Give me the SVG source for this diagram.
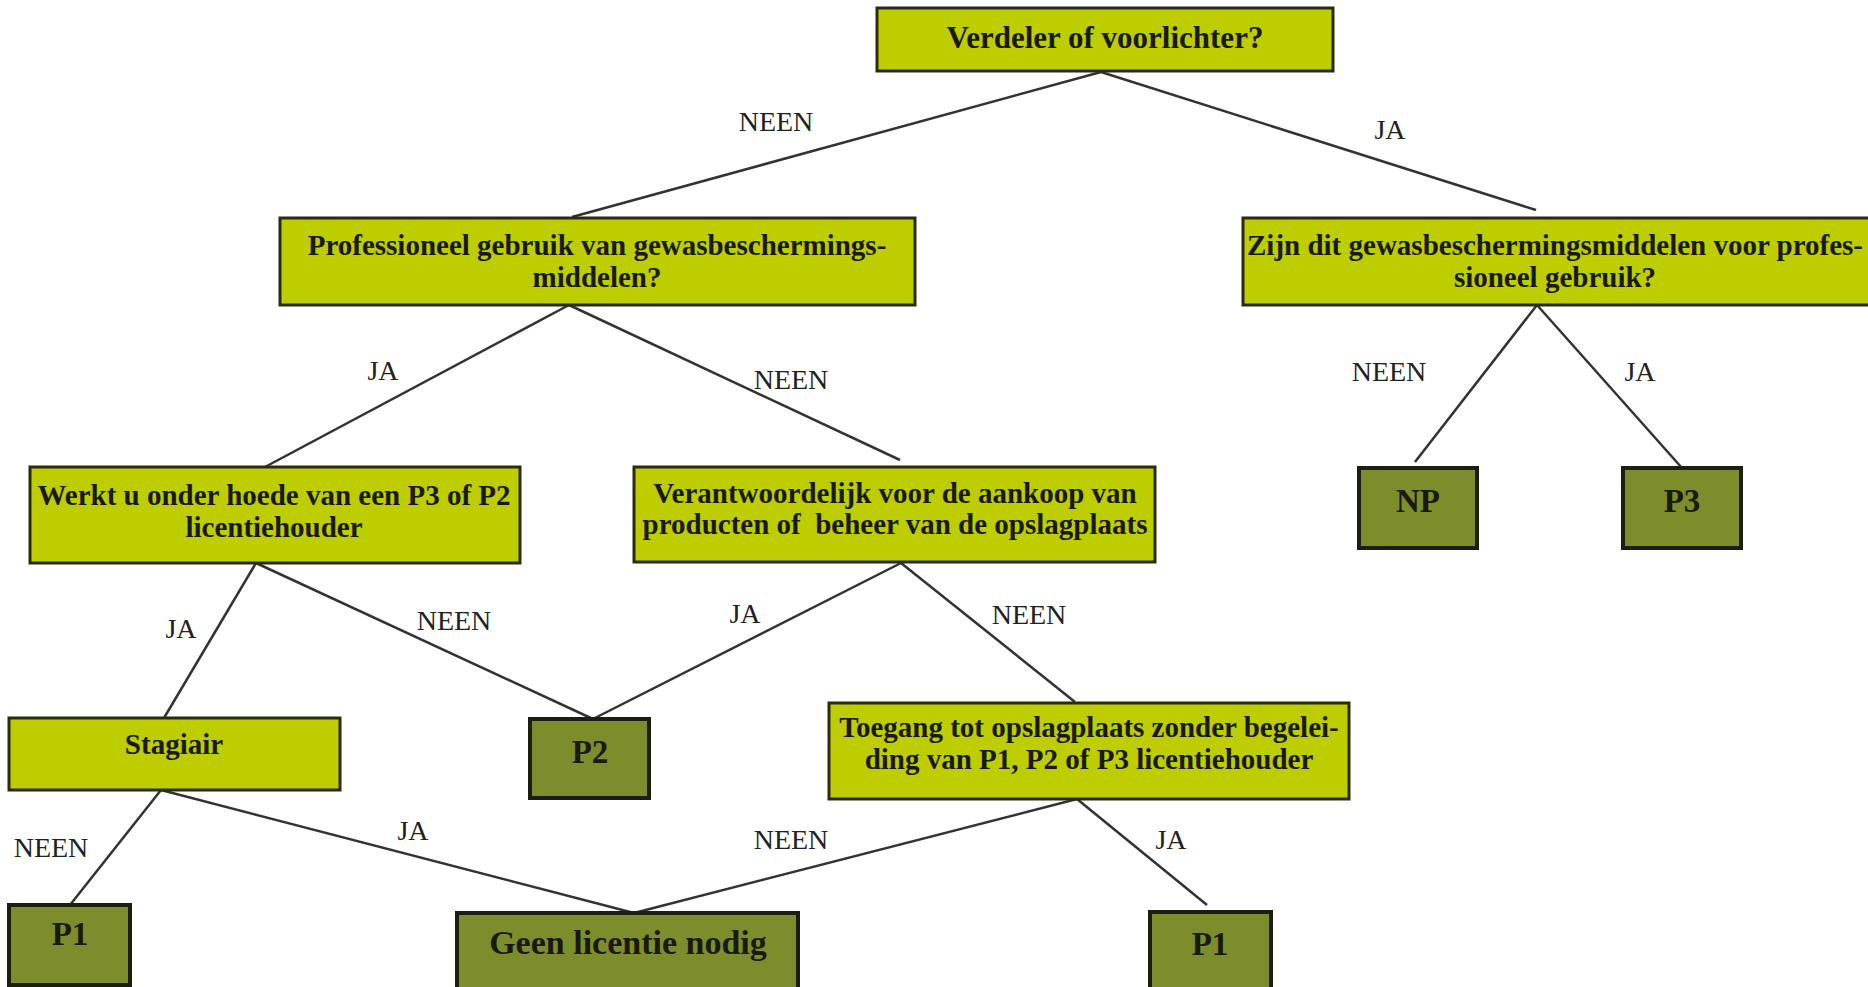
<svg xmlns="http://www.w3.org/2000/svg" width="1868" height="987" viewBox="0 0 1868 987">
<style>
.q{fill:#bdcd00;stroke:#2b2b12;stroke-width:3}
.r{fill:#7d8d2c;stroke:#1e1e0e;stroke-width:4}
.t{font-family:"Liberation Serif","Times New Roman",serif;font-weight:bold;font-size:29px;fill:#1a1a0a;text-anchor:middle}
.tr{font-family:"Liberation Serif","Times New Roman",serif;font-weight:bold;font-size:33px;fill:#1a1a0a;text-anchor:middle}
.l{font-family:"Liberation Serif","Times New Roman",serif;font-size:28px;fill:#222;text-anchor:middle}
.c line{stroke:#333;stroke-width:2.5}
</style>
<rect width="1868" height="987" fill="#ffffff"/>
<g id="connectors" class="c">
<line x1="1101" y1="72" x2="572" y2="217"/>
<line x1="1101" y1="72" x2="1536" y2="210"/>
<line x1="569" y1="305" x2="265" y2="467"/>
<line x1="569" y1="305" x2="900" y2="460"/>
<line x1="1537" y1="305" x2="1415" y2="462"/>
<line x1="1537" y1="305" x2="1682" y2="468"/>
<line x1="256" y1="563" x2="164" y2="718"/>
<line x1="256" y1="563" x2="593" y2="719"/>
<line x1="901" y1="563" x2="593" y2="719"/>
<line x1="901" y1="563" x2="1075" y2="702"/>
<line x1="161" y1="790" x2="70" y2="905"/>
<line x1="161" y1="790" x2="634" y2="913"/>
<line x1="1077" y1="799" x2="634" y2="913"/>
<line x1="1077" y1="799" x2="1207" y2="905"/>
<text class="l" x="776" y="131">NEEN</text>
<text class="l" x="1390" y="139">JA</text>
<text class="l" x="383" y="380">JA</text>
<text class="l" x="791" y="389">NEEN</text>
<text class="l" x="1389" y="381">NEEN</text>
<text class="l" x="1640" y="381">JA</text>
<text class="l" x="181" y="638">JA</text>
<text class="l" x="454" y="630">NEEN</text>
<text class="l" x="745" y="623">JA</text>
<text class="l" x="1029" y="624">NEEN</text>
<text class="l" x="51" y="857">NEEN</text>
<text class="l" x="413" y="840">JA</text>
<text class="l" x="791" y="849">NEEN</text>
<text class="l" x="1171" y="849">JA</text>
</g>
<g id="verdeler"><rect class="q" x="877" y="8" width="456" height="63"/><text class="t" x="1105" y="48" style="font-size:31px">Verdeler of voorlichter?</text></g>
<g id="professioneel"><rect class="q" x="280" y="218" width="635" height="87"/><text class="t" x="597" y="255">Professioneel gebruik van gewasbeschermings-</text><text class="t" x="597" y="287">middelen?</text></g>
<g id="zijn"><rect class="q" x="1243" y="218" width="627" height="87"/><text class="t" x="1555" y="255">Zijn dit gewasbeschermingsmiddelen voor profes-</text><text class="t" x="1555" y="287">sioneel gebruik?</text></g>
<g id="werkt"><rect class="q" x="30" y="467" width="490" height="96"/><text class="t" x="274" y="505">Werkt u onder hoede van een P3 of P2</text><text class="t" x="274" y="537">licentiehouder</text></g>
<g id="verantwoordelijk"><rect class="q" x="634" y="467" width="521" height="95"/><text class="t" x="895" y="503">Verantwoordelijk voor de aankoop van</text><text class="t" x="895" y="534" xml:space="preserve">producten of  beheer van de opslagplaats</text></g>
<g id="np"><rect class="r" x="1359" y="468" width="118" height="80"/><text class="tr" x="1418" y="512">NP</text></g>
<g id="p3"><rect class="r" x="1623" y="468" width="118" height="80"/><text class="tr" x="1682" y="512">P3</text></g>
<g id="stagiair"><rect class="q" x="9" y="718" width="331" height="72"/><text class="t" x="174" y="754">Stagiair</text></g>
<g id="p2"><rect class="r" x="530" y="719" width="119" height="79"/><text class="tr" x="590" y="763">P2</text></g>
<g id="toegang"><rect class="q" x="829" y="703" width="520" height="96"/><text class="t" x="1089" y="737">Toegang tot opslagplaats zonder begelei-</text><text class="t" x="1089" y="769">ding van P1, P2 of P3 licentiehouder</text></g>
<g id="p1a"><rect class="r" x="9" y="905" width="121" height="80"/><text class="tr" x="70" y="945">P1</text></g>
<g id="geen"><rect class="r" x="457" y="913" width="341" height="80"/><text class="tr" x="628" y="954" style="font-size:34px">Geen licentie nodig</text></g>
<g id="p1b"><rect class="r" x="1150" y="912" width="121" height="80"/><text class="tr" x="1210" y="955">P1</text></g>
</svg>
